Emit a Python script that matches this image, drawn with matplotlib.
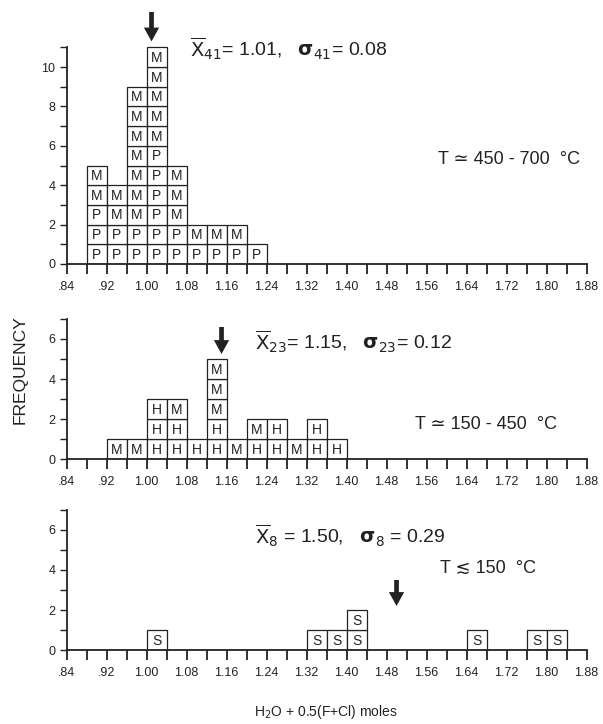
import numpy as np
import matplotlib.pyplot as plt

plt.rcParams['font.family'] = ['Liberation Sans', 'DejaVu Sans']

# bin left edges (width 0.04) and stacked sample codes, bottom to top
bin_w = 0.04
p1_bins = [0.88, 0.92, 0.96, 1.00, 1.04, 1.08, 1.12, 1.16, 1.20]
p1_stacks = ['PPPMM', 'PPMM', 'PPMMMMMMM', 'PPPPPPMMMMM', 'PPMMM', 'PM', 'PM', 'PM', 'P']

p2_bins = [0.92, 0.96, 1.00, 1.04, 1.08, 1.12, 1.16, 1.20, 1.24, 1.28, 1.32, 1.36]
p2_stacks = ['M', 'M', 'HHH', 'HHM', 'H', 'HHMMM', 'M', 'HM', 'HH', 'M', 'HH', 'H']

p3_bins = [1.00, 1.32, 1.36, 1.40, 1.64, 1.76, 1.80]
p3_stacks = ['S', 'S', 'S', 'SS', 'S', 'S', 'S']

means = [1.01, 1.15, 1.50]
sds = [0.08, 0.12, 0.29]
counts = [41, 23, 8]
temps = ['T \u2243 450 - 700  \u00b0C', 'T \u2243 150 - 450  \u00b0C', 'T \u2272 150  \u00b0C']

xticks = np.round(np.arange(0.84, 1.8801, 0.04), 2)
xlabels = [('%.2f' % v).lstrip('0') if i % 2 == 0 else '' for i, v in enumerate(xticks)]

fig = plt.figure(figsize=(6.03, 7.24), dpi=100)
left, width = 0.1103, 0.879
ax1 = fig.add_axes([left, 0.6354, width, 0.359])
ax2 = fig.add_axes([left, 0.366, width, 0.1934])
ax3 = fig.add_axes([left, 0.1022, width, 0.1934])

panels = [
    (ax1, p1_bins, p1_stacks, 13.2, 11),
    (ax2, p2_bins, p2_stacks, 7.0, 7),
    (ax3, p3_bins, p3_stacks, 7.0, 7),
]

for ax, bins, stacks, ytop, yaxtop in panels:
    for x0, s in zip(bins, stacks):
        for lvl, ch in enumerate(s):
            ax.bar(x0, 1, width=bin_w, bottom=lvl, align='edge',
                   color='white', edgecolor='#222', linewidth=0.9, zorder=2)
            ax.text(x0 + bin_w / 2, lvl + 0.47, ch, ha='center', va='center',
                    fontsize=10, color='#222', zorder=3)
    ax.set_xlim(0.84, 1.90)
    ax.set_ylim(0, ytop)
    for sp in ['top', 'right']:
        ax.spines[sp].set_visible(False)
    ax.spines['left'].set_bounds(0, yaxtop)
    ax.spines['bottom'].set_bounds(0.84, 1.88)
    ax.spines['left'].set_linewidth(1.3)
    ax.spines['bottom'].set_linewidth(1.3)
    ax.spines['left'].set_color('#222')
    ax.spines['bottom'].set_color('#222')
    ax.set_xticks(xticks)
    ax.set_xticklabels(xlabels)
    yt = np.arange(0, yaxtop + 1)
    ax.set_yticks(yt)
    ax.set_yticklabels([str(v) if v % 2 == 0 else '' for v in yt])
    ax.tick_params(axis='x', direction='out', length=7, width=1.3, labelsize=9,
                   colors='#222', pad=5)
    ax.tick_params(axis='y', direction='out', length=5, width=1.0, labelsize=9,
                   colors='#222', pad=3)
    ax.patch.set_alpha(0)

# stats text, temperature ranges and arrows at the mean
stat_pos = [(1.087, 10.9), (1.217, 5.85), (1.217, 5.7)]
temp_pos = [(1.583, 5.33), (1.537, 1.75), (1.587, 4.1)]
arrow_y = [(12.8, 11.3), (6.6, 5.25), (3.5, 2.2)]
for ax, m, sd, n, t, sp, tp, ay in zip([ax1, ax2, ax3], means, sds, counts, temps,
                                        stat_pos, temp_pos, arrow_y):
    eq = '= ' if n > 9 else ' = '
    s = r'$\overline{\mathrm{X}}_{%d}$%s%.2f,   $\mathbf{\sigma}_{%d}$%s%.2f' % (n, eq, m, n, eq, sd)
    ax.text(sp[0], sp[1], s, fontsize=14, va='center', ha='left', color='#222')
    ax.text(tp[0], tp[1], t, fontsize=13, va='center', ha='left', color='#222')
    ax.annotate('', xy=(m, ay[1]), xytext=(m, ay[0]),
                arrowprops=dict(facecolor='#222', edgecolor='none', width=3.4,
                                headwidth=11, headlength=10, shrink=0),
                annotation_clip=False)

fig.text(0.034, 0.49, 'FREQUENCY', rotation=90, ha='center', va='center',
         fontsize=12.5, color='#222')
fig.text(0.54, 0.017, r'H$_2$O + 0.5(F+Cl) moles', ha='center', va='center',
         fontsize=10, color='#222')

fig.savefig('out.png', dpi=100)
